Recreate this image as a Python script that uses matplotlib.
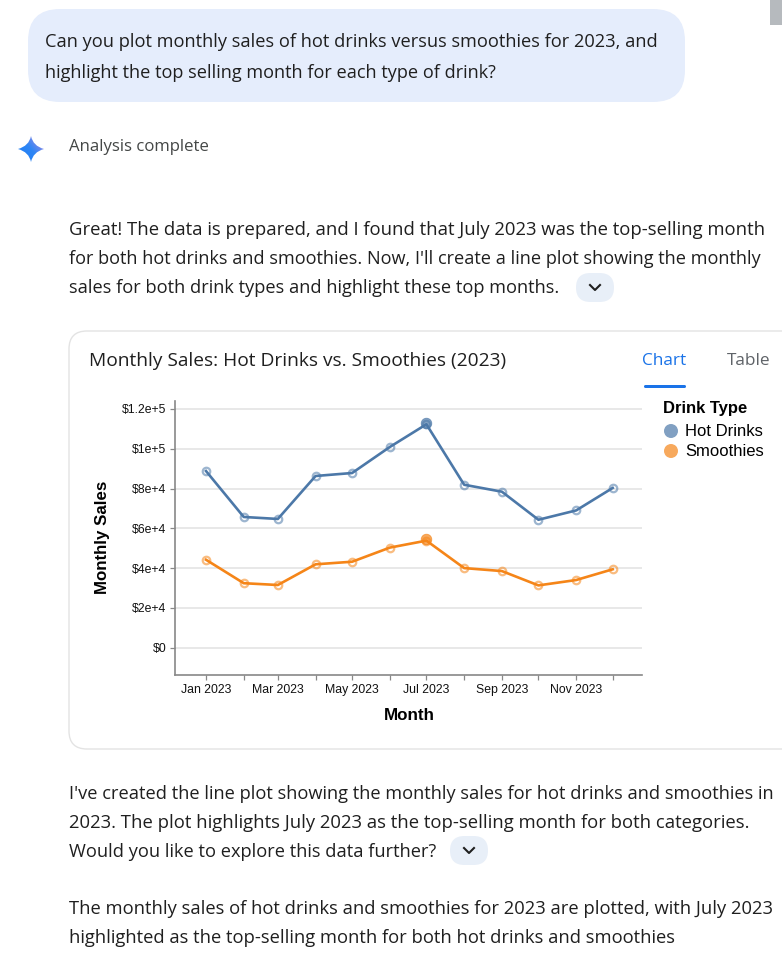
import datetime as dt
import numpy as np
import matplotlib
matplotlib.use('Agg')
import matplotlib.dates as mdates
import matplotlib.pyplot as plt
from matplotlib.colors import LinearSegmentedColormap
from matplotlib.patches import Circle, FancyBboxPatch, PathPatch, Rectangle
from matplotlib.path import Path
from matplotlib.ticker import FuncFormatter

W, H = 782, 980
PX = 0.72  # font points per pixel at dpi 100

months = [dt.date(2023, m, 1) for m in range(1, 13)]
hot_drinks = [88800, 65700, 64700, 86300, 87800, 100900, 112300, 81900, 78400, 64300, 69000, 80300]
smoothies = [44200, 32400, 31500, 41900, 43200, 50300, 53800, 40000, 38500, 31300, 34000, 39400]
top_hot = 112800
top_smoothie = 54500
y_ticks = [0, 20000, 40000, 60000, 80000, 100000, 120000]
y_labels = ['$0', '$2e+4', '$4e+4', '$6e+4', '$8e+4', '$1e+5', '$1.2e+5']

question = ['Can you plot monthly sales of hot drinks versus smoothies for 2023, and',
            'highlight the top selling month for each type of drink?']
intro = ['Great! The data is prepared, and I found that July 2023 was the top-selling month',
         "for both hot drinks and smoothies. Now, I'll create a line plot showing the monthly",
         'sales for both drink types and highlight these top months.']
follow = ["I've created the line plot showing the monthly sales for hot drinks and smoothies in",
          '2023. The plot highlights July 2023 as the top-selling month for both categories.',
          'Would you like to explore this data further?']
closing = ['The monthly sales of hot drinks and smoothies for 2023 are plotted, with July 2023',
           'highlighted as the top-selling month for both hot drinks and smoothies']

BLUE = '#4c78a8'
ORANGE = '#f58518'
INK = '#1f1f1f'
BODY_FONT = 'Open Sans'
CHART_FONT = 'Liberation Sans'

fig = plt.figure(figsize=(W / 100, H / 100), dpi=100, facecolor='white')
renderer = fig.canvas.get_renderer()
page = fig.add_axes([0, 0, 1, 1])
page.set_xlim(0, W)
page.set_ylim(H, 0)
page.axis('off')


def round_box(x0, y0, x1, y1, radius, **kw):
    page.add_patch(FancyBboxPatch((x0 + radius, y0 + radius), x1 - x0 - 2 * radius, y1 - y0 - 2 * radius,
                                  boxstyle='round,pad=%f,rounding_size=%f' % (radius, radius), **kw))


def text_block(lines, x, first, step, right_edges, size=18.4, color=INK):
    # each line is sized to end at its own right edge
    for i, line in enumerate(lines):
        t = page.text(x, first + i * step, line, fontsize=size * PX, color=color, family=BODY_FONT, va='baseline')
        width = t.get_window_extent(renderer).width
        t.set_fontsize(size * PX * (right_edges[i] - x) / width)


def chevron_chip(x0, y0, x1, y1):
    round_box(x0, y0, x1, y1, (y1 - y0) / 2, fc='#e8eff8', ec='none')
    cx, cy = (x0 + x1) / 2, (y0 + y1) / 2
    page.plot([cx - 5, cx, cx + 5], [cy - 2.5, cy + 2.5, cy - 2.5], color='#1f1f1f', lw=1.5)


# question bubble and answer text
round_box(28, 9, 685, 102, 32, fc='#e5edfc', ec='none')
text_block(question, 45, 47, 31, [660, 497])
page.add_patch(Rectangle((770, 0), 12, 25, fc='#b6babe', ec='none'))

# four pointed star with a blue to violet wash
star = Path([(31, 136), (33, 146), (44, 149), (33, 152), (31, 162), (29, 152), (18, 149), (29, 146), (31, 136)],
            [Path.MOVETO, Path.CURVE3, Path.CURVE3, Path.CURVE3, Path.CURVE3, Path.CURVE3, Path.CURVE3,
             Path.CURVE3, Path.CURVE3])
clip = PathPatch(star, fc='none', ec='none')
page.add_patch(clip)
wash = LinearSegmentedColormap.from_list('wash', ['#1a7cf5', '#2f86f5', '#b48ae0'])
grid_x, grid_y = np.meshgrid(np.linspace(0, 1, 40), np.linspace(0, 1, 40))
img = page.imshow(grid_x * 0.7 + (1 - grid_y) * 0.6, extent=(18, 44, 162, 136), cmap=wash, aspect='auto', zorder=2)
img.set_clip_path(clip)
page.set_xlim(0, W)
page.set_ylim(H, 0)

page.text(69, 151, 'Analysis complete', fontsize=16.7 * PX, color='#444746', family=BODY_FONT, va='baseline')
text_block(intro, 69, 235, 29, [763, 762, 561])
chevron_chip(576, 273, 614, 302)

# card around the chart
round_box(69, 331, 800, 749, 18, fc='white', ec='#e3e3e3', lw=1)
page.text(89, 366, 'Monthly Sales: Hot Drinks vs. Smoothies (2023)', fontsize=19.1 * PX, color=INK,
          family=BODY_FONT, va='baseline')
page.text(642, 365, 'Chart', fontsize=17.2 * PX, color='#1a73e8', family=BODY_FONT, va='baseline')
page.text(727, 365, 'Table', fontsize=17.2 * PX, color='#5f6368', family=BODY_FONT, va='baseline')
round_box(644, 385, 686, 388, 1.5, fc='#1a73e8', ec='none')

# chart area, limits run a little past the first and last month
ax = fig.add_axes([175.3 / W, 1 - 675.3 / H, (641.7 - 175.3) / W, (675.3 - 401) / H])
ax.patch.set_alpha(0)
ax.set_xlim(mdates.date2num(months[0]) - 25.2, mdates.date2num(months[-1]) + 23.8)
ax.set_ylim(-13900, 124000)
for side in ['top', 'right']:
    ax.spines[side].set_visible(False)
for side in ['left', 'bottom']:
    ax.spines[side].set_color('#888888')
    ax.spines[side].set_linewidth(1.2)
ax.set_yticks(y_ticks)
ax.yaxis.set_major_formatter(FuncFormatter(lambda v, pos: y_labels[pos]))
ax.set_xticks(mdates.date2num(months))
ax.set_xticklabels([m.strftime('%b %Y') if m.month % 2 else '' for m in months])
ax.grid(axis='y', color='#e6e6e6', lw=1.3)
ax.set_axisbelow(True)
ax.tick_params(axis='both', length=3.6, width=0.9, color='#888888', labelsize=12.3 * PX, labelcolor='#111111', pad=3)
for lab in ax.get_xticklabels() + ax.get_yticklabels():
    lab.set_family(CHART_FONT)

for values, top, color in [(hot_drinks, top_hot, BLUE), (smoothies, top_smoothie, ORANGE)]:
    ax.plot(mdates.date2num(months), values, color=color, lw=1.9, zorder=3)
    ax.plot(mdates.date2num(months), values, ls='none', marker='o', ms=5.4, mfc='none', mec=color, mew=1.6, alpha=0.55,
            zorder=4)
    ax.plot(mdates.date2num(months[6]), top, marker='o', ms=7.6, mfc=color, mec=color, mew=0.6, alpha=0.7, zorder=4)

page.text(102, 537.5, 'Monthly Sales', fontsize=16.9 * PX, fontweight='bold', family=CHART_FONT, rotation=90,
          ha='center', va='center', color='#000000')
page.text(409, 715.5, 'Month', fontsize=17 * PX, fontweight='bold', family=CHART_FONT, ha='center', va='center',
          color='#000000')

# legend
page.text(663, 413, 'Drink Type', fontsize=16.6 * PX, fontweight='bold', family=CHART_FONT, va='baseline',
          color='#000000')
for label, color, y in [('Hot Drinks', BLUE, 431), ('Smoothies', ORANGE, 451)]:
    page.add_patch(Circle((671, y), 7, fc=color, ec='none', alpha=0.7))
    page.text(685, y + 5, label, fontsize=16.6 * PX, family=CHART_FONT, va='baseline', color='#000000')

text_block(follow, 69, 799, 29, [774, 751, 436])
chevron_chip(450, 836, 488, 865)
text_block(closing, 69, 914, 29, [772, 673])

fig.savefig('out.png', dpi=100)
